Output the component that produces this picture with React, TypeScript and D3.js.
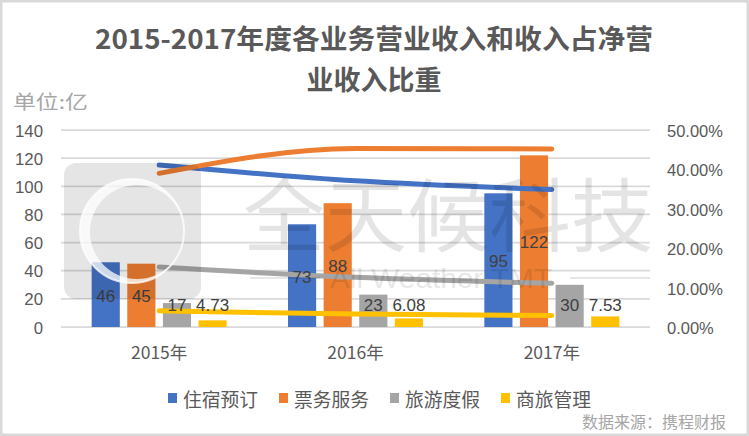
import React from 'react';
import * as d3 from 'd3';

const years = ['2015年', '2016年', '2017年'];
const seriesNames = ['住宿预订', '票务服务', '旅游度假', '商旅管理'];
const colors = ['#4472c4', '#ed7d31', '#a5a5a5', '#ffc000'];

// revenue (亿)
const accommodation = [46, 73, 95];
const ticketing = [45, 88, 122];
const packagedTours = [17, 23, 30];
const corporateTravel = [4.73, 6.08, 7.53];
const revenueLabels = [
  ['46', '73', '95'],
  ['45', '88', '122'],
  ['17', '23', '30'],
  ['4.73', '6.08', '7.53'],
];

// share of net revenue
const accommodationShare = [0.411, 0.371, 0.349];
const ticketingShare = [0.39, 0.453, 0.452];
const packagedToursShare = [0.152, 0.126, 0.111];
const corporateTravelShare = [0.041, 0.033, 0.029];

const leftTicks = [0, 20, 40, 60, 80, 100, 120, 140];
const rightTicks = [0, 0.1, 0.2, 0.3, 0.4, 0.5];

const revenue = [accommodation, ticketing, packagedTours, corporateTravel];
const shares = [accommodationShare, ticketingShare, packagedToursShare, corporateTravelShare];

const W = 749;
const H = 436;
const plotL = 61;
const plotR = 650;
const plotT = 130;
const plotB = 327;

const NUM = "'Liberation Sans', Arial, sans-serif";
const CJK = "'Noto Sans CJK SC', 'Liberation Sans', sans-serif";

export default function App() {
  const x = d3.scaleBand<string>().domain(years).range([plotL, plotR]).padding(0);
  const yL = d3.scaleLinear().domain([0, 140]).range([plotB, plotT]);
  const yR = d3.scaleLinear().domain([0, 0.5]).range([plotB, plotT]);
  const groupHalf = 67.5;
  const inner = d3
    .scaleBand<number>()
    .domain([0, 1, 2, 3])
    .range([-groupHalf, groupHalf])
    .paddingInner(0.21)
    .paddingOuter(0);
  const cx = (c: string) => (x(c) as number) + x.bandwidth() / 2;

  const line = d3
    .line<number>()
    .x((_, i) => cx(years[i]))
    .y((d) => yR(d))
    .curve(d3.curveMonotoneX);

  const labelCap = yL(16);

  // watermark crescent
  const crescent = (() => {
    const p = d3.path();
    p.arc(132, 231, 52, 0, Math.PI * 2);
    p.closePath();
    p.moveTo(137 + 47, 232);
    p.arc(137, 232, 47, 0, Math.PI * 2);
    p.closePath();
    return p.toString();
  })();

  return (
    <div style={{ position: 'absolute', left: 0, top: 0 }}>
      <svg width={W} height={H} style={{ display: 'block' }}>
        <rect x={1.25} y={1.25} width={W - 2.5} height={H - 2.5} fill="#fff" stroke="#d9d9d9" strokeWidth={2.5} />

        {/* title */}
        <text x={95} y={49} fontFamily={CJK} fontWeight="bold" fontSize={27} fill="#595959" textLength={558} lengthAdjust="spacingAndGlyphs">
          2015-2017年度各业务营业收入和收入占净营
        </text>
        <text x={374} y={90} textAnchor="middle" fontFamily={CJK} fontWeight="bold" fontSize={27} fill="#595959">
          业收入比重
        </text>
        <text x={13} y={109} fontFamily={CJK} fontSize={19} fill="#a6a6a6" textLength={75} lengthAdjust="spacingAndGlyphs">
          单位:亿
        </text>

        {/* grid */}
        {leftTicks.map((t) => (
          <line key={t} x1={plotL} x2={plotR} y1={yL(t)} y2={yL(t)} stroke="#d9d9d9" strokeWidth={1.75} />
        ))}
        {leftTicks.map((t) => (
          <text key={'l' + t} x={43} y={yL(t) + 1} textAnchor="end" dominantBaseline="central" fontFamily={NUM} fontSize={16.8} fill="#595959">
            {t}
          </text>
        ))}
        {rightTicks.map((t) => (
          <text key={'r' + t} x={667} y={yR(t) + 1} dominantBaseline="central" fontFamily={NUM} fontSize={16.5} fill="#595959">
            {d3.format('.2%')(t)}
          </text>
        ))}

        {/* bars */}
        {revenue.map((vals, s) =>
          vals.map((v, i) => (
            <rect
              key={`b${s}-${i}`}
              x={cx(years[i]) + (inner(s) as number)}
              y={yL(v)}
              width={inner.bandwidth()}
              height={plotB - yL(v)}
              fill={colors[s]}
            />
          ))
        )}

        {/* share lines */}
        {shares.map((vals, s) => (
          <path key={`l${s}`} d={line(vals) as string} fill="none" stroke={colors[s]} strokeWidth={5} strokeLinecap="round" strokeLinejoin="round" />
        ))}

        {/* data labels */}
        {revenue.map((vals, s) =>
          vals.map((v, i) => {
            const mid = (yL(v) + plotB) / 2;
            return (
              <text
                key={`t${s}-${i}`}
                x={cx(years[i]) + (inner(s) as number) + inner.bandwidth() / 2}
                y={Math.min(mid, labelCap) + 1.5}
                textAnchor="middle"
                dominantBaseline="central"
                fontFamily={NUM}
                fontSize={17}
                fill="#404040"
              >
                {revenueLabels[s][i]}
              </text>
            );
          })
        )}

        {/* x labels */}
        {years.map((c) => (
          <text key={c} x={cx(c)} y={351} textAnchor="middle" dominantBaseline="central" fontFamily={CJK} fontSize={17.5} fill="#595959">
            {c}
          </text>
        ))}

        {/* watermark */}
        <g pointerEvents="none">
          <rect x={64} y={163} width={137} height={136} rx={12} fill="#000" opacity={0.1} />
          <path d={crescent} fill="#fff" fillRule="evenodd" opacity={0.75} />
          <circle cx={132} cy={231} r={52} fill="none" stroke="#fff" strokeWidth={2} opacity={0.75} />
          <text x={243} y={245} fontFamily={CJK} fontSize={80} fill="#000" opacity={0.1} textLength={410} lengthAdjust="spacingAndGlyphs">
            全天候科技
          </text>
          <text x={330} y={288} fontFamily={NUM} fontSize={28} fill="#000" opacity={0.09} textLength={222} lengthAdjust="spacingAndGlyphs">
            All Weather TMT
          </text>
          <line x1={250} x2={320} y1={278} y2={278} stroke="#000" strokeWidth={2} opacity={0.09} />
          <line x1={570} x2={650} y1={278} y2={278} stroke="#000" strokeWidth={2} opacity={0.09} />
        </g>

        {/* legend */}
        {seriesNames.map((n, i) => {
          const lx = 168 + i * 111;
          return (
            <g key={n}>
              <rect x={lx} y={393} width={9} height={10} fill={colors[i]} />
              <text x={lx + 15} y={398} dominantBaseline="central" fontFamily={CJK} fontSize={18.75} fill="#595959">
                {n}
              </text>
            </g>
          );
        })}

        <text x={726} y={421} textAnchor="end" dominantBaseline="central" fontFamily={CJK} fontSize={16} fill="#a6a6a6">
          数据来源：携程财报
        </text>
      </svg>
    </div>
  );
}
